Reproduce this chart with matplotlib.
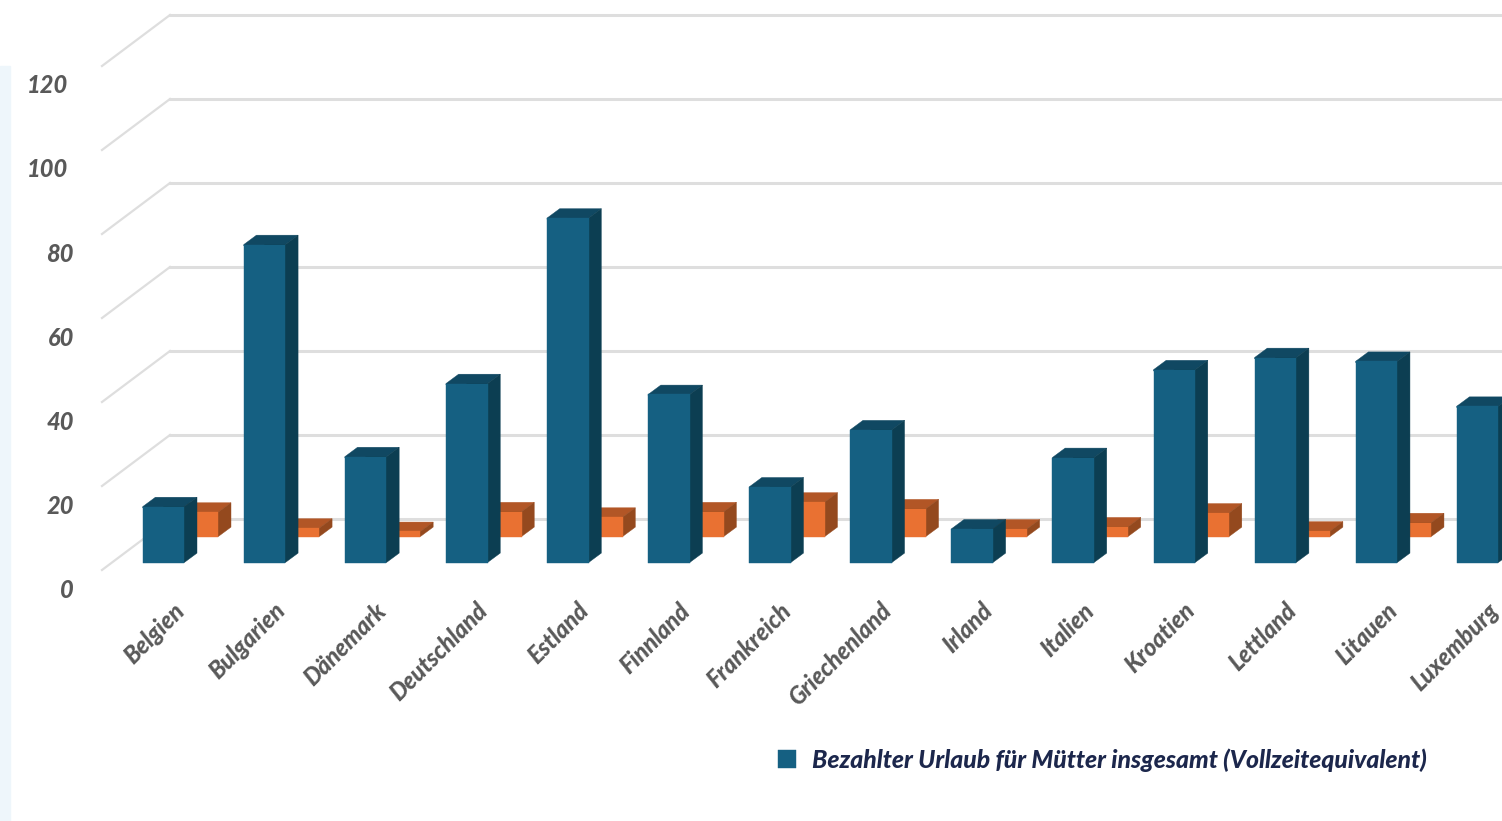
import numpy as np
import matplotlib
matplotlib.use("Agg")
import matplotlib.pyplot as plt
from matplotlib.patches import Rectangle

countries = ["Belgien", "Bulgarien", "Dänemark", "Deutschland", "Estland", "Finnland", "Frankreich",
             "Griechenland", "Irland", "Italien", "Kroatien", "Lettland", "Litauen", "Luxemburg"]
total_leave = [13.3, 75.7, 25.2, 42.6, 82.0, 40.0, 18.0, 31.6, 8.0, 25.0, 45.9, 48.8, 47.9, 37.2]
second_series = [5.8, 2.0, 1.2, 5.9, 4.6, 5.9, 8.2, 6.6, 1.8, 2.3, 5.6, 1.3, 3.3, 3.0]
y_ticks = [0, 20, 40, 60, 80, 100, 120]
legend_label = "Bezahlter Urlaub für Mütter insgesamt (Vollzeitequivalent)"

W, H = 1502, 821
PX_X = 101.08   # pixels per category
PX_Y = 4.2      # pixels per value unit
X0 = 163.5      # pixel x of first bar centre
Y0 = 562.5      # pixel y of value 0

def px_x(p):
    return (p - X0) / PX_X

def px_y(p):
    return (Y0 - p) / PX_Y

plt.rcParams["font.family"] = ["Lato", "DejaVu Sans"]

fig = plt.figure(figsize=(W / 100, H / 100), dpi=100, facecolor="white")
ax = fig.add_axes([0, 0, 1, 1])
ax.set_xlim(px_x(0), px_x(W))
ax.set_ylim(px_y(H), px_y(0))
ax.axis("off")

# pale strip on the left edge
fig.patches.append(Rectangle((0, 0), 10 / W, (H - 66) / H, transform=fig.transFigure, color="#eef6fb", zorder=0))

# back wall and side wall grid
wall_dx = 68 / PX_X
wall_dy = 51 / PX_Y
front_x = px_x(102)
front_y0 = px_y(570)
for t in y_ticks:
    ax.plot([front_x, front_x + wall_dx], [front_y0 + t, front_y0 + t + wall_dy], color="#dedede", lw=1.6, zorder=1)
    ax.plot([front_x + wall_dx, px_x(W + 5)], [front_y0 + t + wall_dy] * 2, color="#dedede", lw=2.2, zorder=1)
    ax.text(px_x(74 - 6 * (t >= 100)), front_y0 + t - 20 / PX_Y, str(t), ha="right", va="center",
            fontsize=17, fontweight=900, fontstyle="italic", color="#595959")

def bars_3d(x, values, bottom, width, front, top, side, z):
    dx = 12.7 / PX_X
    dy = 9.4 / PX_Y
    e = 0.3
    for xi, v in zip(x, values):
        left = xi - width / 2
        right = xi + width / 2
        up = bottom + v
        # both faces run on under the front face so no seam shows
        ax.fill([left, left, left + dx, right + dx, right, right], [up - e, up, up + dy, up + dy, up, up - e],
                color=top, lw=0.3, zorder=z)
        ax.fill([xi, right, right + dx, right + dx, right, xi], [bottom, bottom, bottom + dy, up + dy, up, up],
                color=side, lw=0.3, zorder=z + 0.1)
    return ax.bar(x, values, width=width, bottom=bottom, color=front, edgecolor=front, linewidth=0.3, zorder=z + 0.2)

x = np.arange(len(countries))
bar_w = 41.6 / PX_X
bars_3d(x + 34 / PX_X, second_series, 26 / PX_Y, bar_w, "#e97132", "#b25626", "#94491e", 2)
blue = bars_3d(x, total_leave, 0, bar_w, "#156082", "#104862", "#0c3e52", 3)

for xi, name in zip(x, countries):
    ax.text(xi + 17 / PX_X, px_y(607), name, rotation=45, rotation_mode="anchor", ha="right", va="center",
            fontsize=17, fontweight=900, fontstyle="italic", color="#595959")

leg = ax.legend([blue], [legend_label], loc="center left", bbox_to_anchor=(771 / W, 1 - 760 / H),
                bbox_transform=fig.transFigure, frameon=False, handlelength=0.72, handleheight=0.72,
                handletextpad=0.62, borderpad=0.3, borderaxespad=0,
                prop={"size": 17.85, "weight": 900, "style": "italic"})
leg.get_texts()[0].set_color("#1c274c")

fig.savefig("out.png", dpi=100)
